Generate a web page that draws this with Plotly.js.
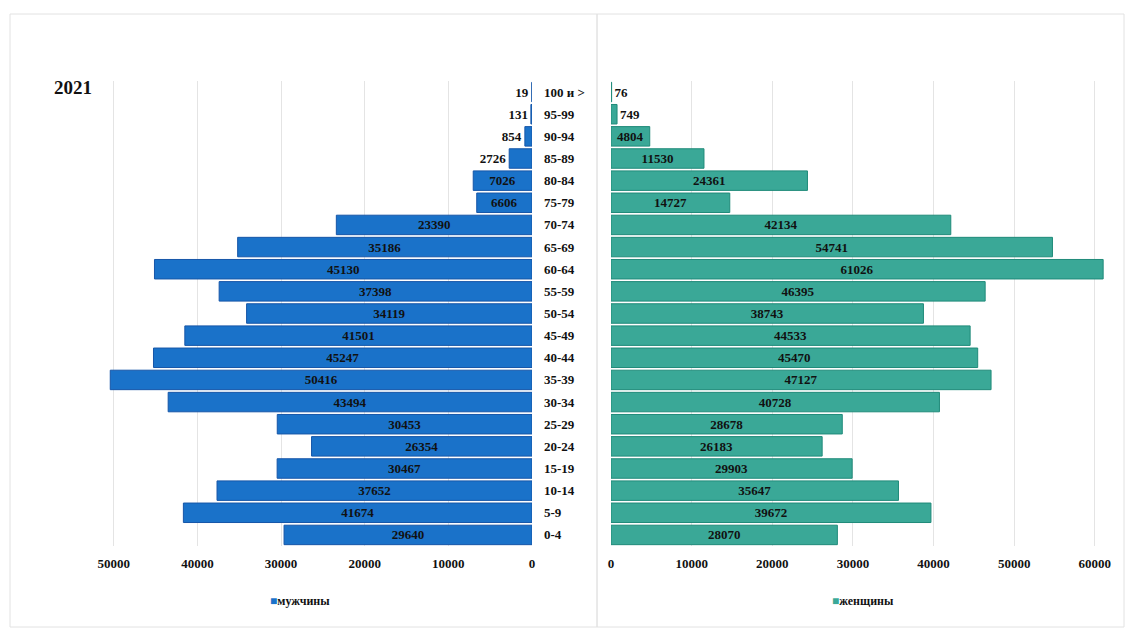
<!DOCTYPE html>
<html>
<head>
<meta charset="utf-8">
<script src="https://cdn.plot.ly/plotly-3.0.1.min.js"></script>
<style>html,body{margin:0;padding:0;background:#fff;}#chart{width:1130px;height:628px;}</style>
</head>
<body>
<div id="chart"></div>
<script>
const categories = ["0-4","5-9","10-14","15-19","20-24","25-29","30-34","35-39","40-44","45-49","50-54","55-59","60-64","65-69","70-74","75-79","80-84","85-89","90-94","95-99","100 и >"];
const men = [29640,41674,37652,30467,26354,30453,43494,50416,45247,41501,34119,37398,45130,35186,23390,6606,7026,2726,854,131,19];
const women = [28070,39672,35647,29903,26183,28678,40728,47127,45470,44533,38743,46395,61026,54741,42134,14727,24361,11530,4804,749,76];
const menTicks = [50000,40000,30000,20000,10000,0];
const womenTicks = [0,10000,20000,30000,40000,50000,60000];
const titleText = "2021";
const menName = "мужчины";
const womenName = "женщины";

const FONT = "Liberation Serif, Times New Roman, serif";
const menColor = "#1a72c9", menLine = "#1656a8";
const womenColor = "#3aa897", womenLine = "#1f8a79";

const traces = [
  {type:"bar", orientation:"h", y:categories, x:men, name:menName,
   xaxis:"x", yaxis:"y",
   marker:{color:menColor, line:{color:menLine, width:1}},
   text:men.map(String), textposition:"auto", constraintext:"none",
   insidetextanchor:"middle",
   textfont:{family:FONT, size:13, color:"#111", weight:"bold"},
   hoverinfo:"x+y", showlegend:false},
  {type:"bar", orientation:"h", y:categories, x:women, name:womenName,
   xaxis:"x2", yaxis:"y2",
   marker:{color:womenColor, line:{color:womenLine, width:1}},
   text:women.map(String), textposition:"auto", constraintext:"none",
   insidetextanchor:"middle",
   textfont:{family:FONT, size:13, color:"#111", weight:"bold"},
   hoverinfo:"x+y", showlegend:false}
];

const W = 1130, H = 628, T = 81, B = 82;
const plotH = H - T - B;
function py(px){ return (H - B - px) / plotH; }

const layout = {
  width:W, height:H,
  margin:{l:0, r:0, t:T, b:B, pad:0},
  paper_bgcolor:"#fff", plot_bgcolor:"rgba(0,0,0,0)",
  bargap:0.12,
  font:{family:FONT, color:"#111"},
  xaxis:{domain:[97/W, 532/W], range:[52000,0], tickvals:menTicks, tickformat:"d",
         showgrid:true, gridcolor:"#e4e4e4", gridwidth:1, zeroline:false, showline:false,
         ticks:"", ticklabelstandoff:8,
         tickfont:{family:FONT, size:13, color:"#111", weight:"bold"}},
  xaxis2:{domain:[611/W, 1111/W], range:[0,62000], tickvals:womenTicks, tickformat:"d",
         showgrid:true, gridcolor:"#e4e4e4", gridwidth:1, zeroline:false, showline:false,
         ticks:"", ticklabelstandoff:8,
         tickfont:{family:FONT, size:13, color:"#111", weight:"bold"}},
  yaxis:{anchor:"x", side:"right", type:"category", range:[-0.5,20.5],
         showgrid:false, zeroline:false, showline:false, ticks:"",
         ticklabelstandoff:11,
         tickfont:{family:FONT, size:13, color:"#111", weight:"bold"}},
  yaxis2:{anchor:"x2", type:"category", matches:"y", showticklabels:false,
         showgrid:false, zeroline:false, showline:false, ticks:""},
  shapes:[
    {type:"rect", xref:"paper", yref:"paper", x0:10/W, x1:597/W, y0:py(627), y1:py(14),
     line:{color:"#e2e2e2", width:1}, fillcolor:"rgba(0,0,0,0)", layer:"below"},
    {type:"rect", xref:"paper", yref:"paper", x0:597/W, x1:1124/W, y0:py(627), y1:py(14),
     line:{color:"#e2e2e2", width:1}, fillcolor:"rgba(0,0,0,0)", layer:"below"}
  ],
  annotations:[
    {xref:"paper", yref:"paper", x:52/W, y:py(87), xanchor:"left", yanchor:"middle",
     text:titleText, showarrow:false, font:{family:FONT, size:19, color:"#111", weight:"bold"}},
    {xref:"paper", yref:"paper", x:268/W, y:py(601), xanchor:"left", yanchor:"middle",
     text:'<span style="color:'+menColor+'">■</span>'+menName, showarrow:false,
     font:{family:FONT, size:12, color:"#111", weight:"bold"}},
    {xref:"paper", yref:"paper", x:830/W, y:py(601), xanchor:"left", yanchor:"middle",
     text:'<span style="color:'+womenColor+'">■</span>'+womenName, showarrow:false,
     font:{family:FONT, size:12, color:"#111", weight:"bold"}}
  ]
};

Plotly.newPlot("chart", traces, layout, {displayModeBar:false, staticPlot:true});
</script>
</body>
</html>
